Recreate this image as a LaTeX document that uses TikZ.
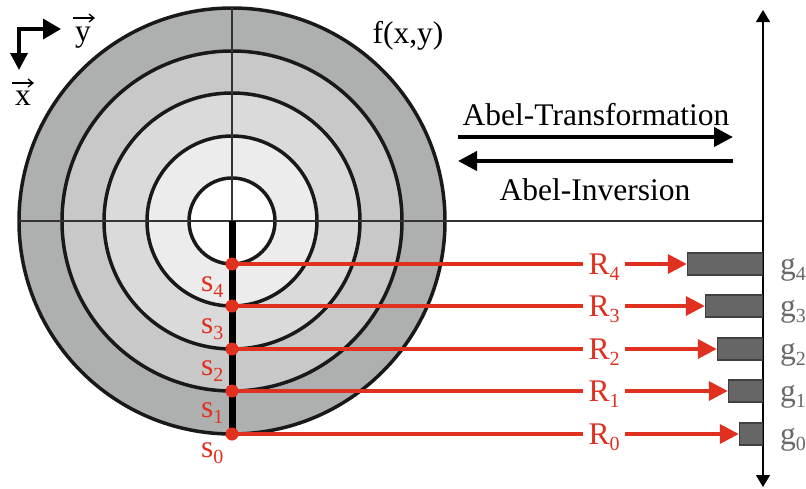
\documentclass[tikz,border=0pt]{standalone}
\usepackage{fontspec}
\setmainfont{Liberation Serif}
\usetikzlibrary{arrows.meta}
\definecolor{myred}{RGB}{224,48,32}
\definecolor{ringA}{RGB}{174,176,175}
\definecolor{ringB}{RGB}{199,200,199}
\definecolor{ringC}{RGB}{218,218,218}
\definecolor{ringD}{RGB}{235,236,235}
\definecolor{bargray}{RGB}{102,102,102}
\definecolor{glabel}{RGB}{105,105,105}
\newcommand{\mysub}[1]{\raisebox{-6pt}{\fontsize{20}{20}\selectfont #1}}
\begin{document}
\begin{tikzpicture}[x=1pt,y=-1pt,
  txt/.style={font=\fontsize{31.5}{36}\selectfont, inner sep=0pt},
  ring/.style={line width=3.5pt, draw=black!90},
  thin/.style={line width=1.5pt, draw=black!80},
  redline/.style={line width=3.5pt, draw=myred},
  redarrow/.style={line width=3.5pt, draw=myred, -{Triangle[length=19pt,width=19pt]}},
  bigarrow/.style={line width=4pt, -{Triangle[length=19pt,width=19pt]}},
  vecarrow/.style={line width=1.3pt, -{Straight Barb[length=5pt,width=8pt]}},
  gbar/.style={draw=black!75, line width=1.2pt, fill=bargray, minimum height=22pt, inner sep=0pt, anchor=east},
  rlab/.style={txt, text=myred, anchor=base, inner xsep=5pt},
  slab/.style={txt, text=myred, anchor=base west},
  glab/.style={txt, text=glabel, anchor=base west}
]
\useasboundingbox (0,0) rectangle (806,488);
% centre and points
\coordinate (c) at (232,221);
\coordinate (s4) at (232,264);
\coordinate (s3) at (232,306);
\coordinate (s2) at (232,349);
\coordinate (s1) at (232,391);
\coordinate (s0) at (232,434);
% rings
\fill[ringA] (c) circle (213);
\fill[ringB] (c) circle (170);
\fill[ringC] (c) circle (127);
\fill[ringD] (c) circle (85);
\fill[white] (c) circle (42);
\foreach \r in {213,170,128,85,43} \draw[ring] (c) circle (\r);
% axes
\coordinate (ctop) at (232,8);
\coordinate (cleft) at (19,221);
\coordinate (axtop) at (763,10);
\coordinate (axbot) at (763,487);
\coordinate (axmid) at (763,221);
\draw[thin] (cleft) -- (axmid);
\draw[thin] (ctop) -- (c);
\draw[line width=1.5pt, {Triangle[length=12pt,width=14pt]}-{Triangle[length=12pt,width=14pt]}] (axbot) -- (axtop);
\draw[line width=7pt] (c) -- (s0);
% coordinate system arrows
\coordinate (ex) at (19,70);
\coordinate (corner) at (19,29);
\coordinate (ey) at (61,29);
\draw[line width=3.5pt, {Triangle[length=17pt,width=17pt]}-{Triangle[length=18pt,width=20pt]}] (ex) -- (corner) -- (ey);
\node[txt, anchor=base] (ylab) at (83,41) {y};
\node[txt, anchor=base] (xlab) at (23,105) {x};
\coordinate (yv1) at (73,18);
\coordinate (yv2) at (95,18);
\coordinate (xv1) at (12,83);
\coordinate (xv2) at (34,83);
\draw[vecarrow] (yv1) -- (yv2);
\draw[vecarrow] (xv1) -- (xv2);
\node[txt, anchor=base] (flab) at (408,43) {f(x,y)};
% Abel arrows
\coordinate (ta) at (458,137);
\coordinate (tb) at (733,137);
\coordinate (ia) at (733,161);
\coordinate (ib) at (458,161);
\draw[bigarrow] (ta) -- (tb);
\draw[bigarrow] (ia) -- (ib);
\node[txt, anchor=base] (abt) at (596,125) {Abel-Transformation};
\node[txt, anchor=base] (abi) at (595,200) {Abel-Inversion};
% bars
\node[gbar, minimum width=75pt] (b4) at (763,264) {};
\node[gbar, minimum width=57pt] (b3) at (763,306) {};
\node[gbar, minimum width=45pt] (b2) at (763,349) {};
\node[gbar, minimum width=34pt] (b1) at (763,391) {};
\node[gbar, minimum width=23pt] (b0) at (763,434) {};
% R labels
\node[rlab] (R4) at (604,274) {R\mysub{4}};
\node[rlab] (R3) at (604,316) {R\mysub{3}};
\node[rlab] (R2) at (604,359) {R\mysub{2}};
\node[rlab] (R1) at (604,401) {R\mysub{1}};
\node[rlab] (R0) at (604,444) {R\mysub{0}};
\foreach \i in {0,...,4}{
  \draw[redline] (s\i) -- (R\i.west |- s\i);
  \draw[redarrow] (R\i.east |- s\i) -- (b\i.west);
}
\foreach \i in {0,...,4} \fill[myred] (s\i) circle (6.5);
% s labels
\node[slab] (l4) at (201,291) {s\mysub{4}};
\node[slab] (l3) at (201,333) {s\mysub{3}};
\node[slab] (l2) at (201,375) {s\mysub{2}};
\node[slab] (l1) at (201,417) {s\mysub{1}};
\node[slab] (l0) at (201,457) {s\mysub{0}};
% g labels
\node[glab] (g4) at (780,274) {g\mysub{4}};
\node[glab] (g3) at (780,316) {g\mysub{3}};
\node[glab] (g2) at (780,359) {g\mysub{2}};
\node[glab] (g1) at (780,401) {g\mysub{1}};
\node[glab] (g0) at (780,444) {g\mysub{0}};
\end{tikzpicture}
\end{document}
